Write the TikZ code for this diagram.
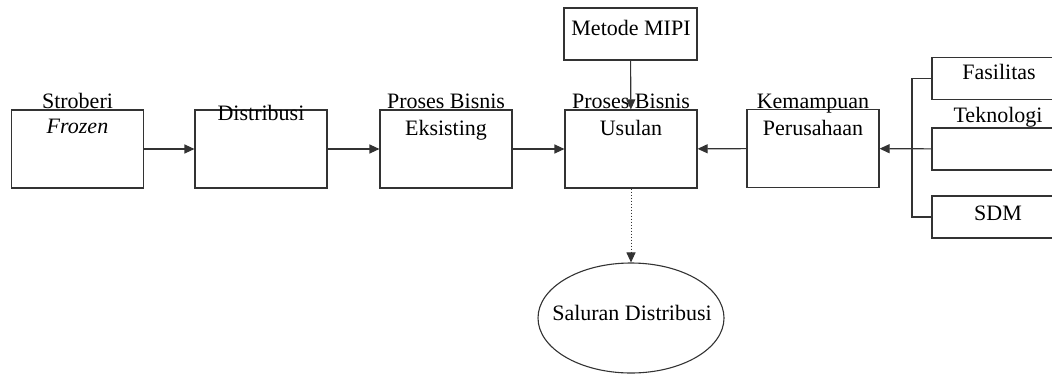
\documentclass[tikz,border=0pt]{standalone}
\usepackage{fontspec}
\setmainfont{Liberation Serif}
\usetikzlibrary{shapes.geometric,arrows.meta}
\begin{document}
\begin{tikzpicture}[x=0.5pt,y=-0.5pt,
  ln/.style={draw=black!80,line width=0.55pt},
  box/.style={ln,rectangle,inner sep=0pt,minimum width=66pt,minimum height=39pt},
  sbox/.style={ln,rectangle,inner sep=0pt,minimum width=66pt,minimum height=21pt},
  txt/.style={inner sep=0pt,anchor=base,font=\fontsize{11}{13}\selectfont},
  arr/.style={ln,-{Triangle[length=5pt,width=4.5pt]}},
  darr/.style={draw=black!80,line width=0.5pt,densely dotted,-{Triangle[length=5pt,width=4.5pt]}}]
\useasboundingbox (0,0) rectangle (1052,374);
\clip (0,0) rectangle (1052,374);
% boxes
\node[box] (b1) at (77.5,149) {};
\node[box] (b2) at (261,149) {};
\node[box] (b3) at (446,149) {};
\node[box] (b4) at (631,149) {};
\node[box] (b5) at (813,148.5) {};
\node[ln,rectangle,inner sep=0pt,minimum width=66.5pt,minimum height=26pt] (mipi) at (630.5,34) {};
\node[sbox] (fas) at (998,78.5) {};
\node[sbox] (tek) at (998,149) {};
\node[sbox] (sdm) at (998,217) {};
\node[ln,ellipse,inner sep=0pt,minimum width=93pt,minimum height=55pt] (sal) at (631,318) {};
% texts
\node[txt] (t1a) at (77.5,108) {Stroberi};
\node[txt] (t1b) at (77.5,133) {\textit{Frozen}};
\node[txt] (t2) at (261,120) {Distribusi};
\node[txt] (t3a) at (446,108) {Proses Bisnis};
\node[txt] (t3b) at (446,135) {Eksisting};
\node[txt] (t4a) at (631,108) {Proses Bisnis};
\node[txt] (t4b) at (631,135) {Usulan};
\node[txt] (t5a) at (813,108) {Kemampuan};
\node[txt] (t5b) at (813,135) {Perusahaan};
\node[txt] (tm) at (631,36) {Metode MIPI};
\node[txt] (tf) at (999,80) {Fasilitas};
\node[txt] (tt) at (998,122) {Teknologi};
\node[txt] (ts) at (998,220) {SDM};
\node[txt] (tsal) at (632,320) {Saluran Distribusi};
% connectors
\draw[arr] (b1) -- (b2);
\draw[arr] (b2) -- (b3);
\draw[arr] (b3) -- (b4);
\draw[arr] (b5) -- (b4);
\draw[arr] (mipi) -- (b4);
\draw[arr] (tek) -- (b5);
\draw[darr] (b4) -- (sal);
\coordinate (jt) at (912,78.5);
\coordinate (jb) at (912,217);
\draw[ln] (fas.west) -- (jt) -- (jb) -- (sdm.west);
\end{tikzpicture}
\end{document}
